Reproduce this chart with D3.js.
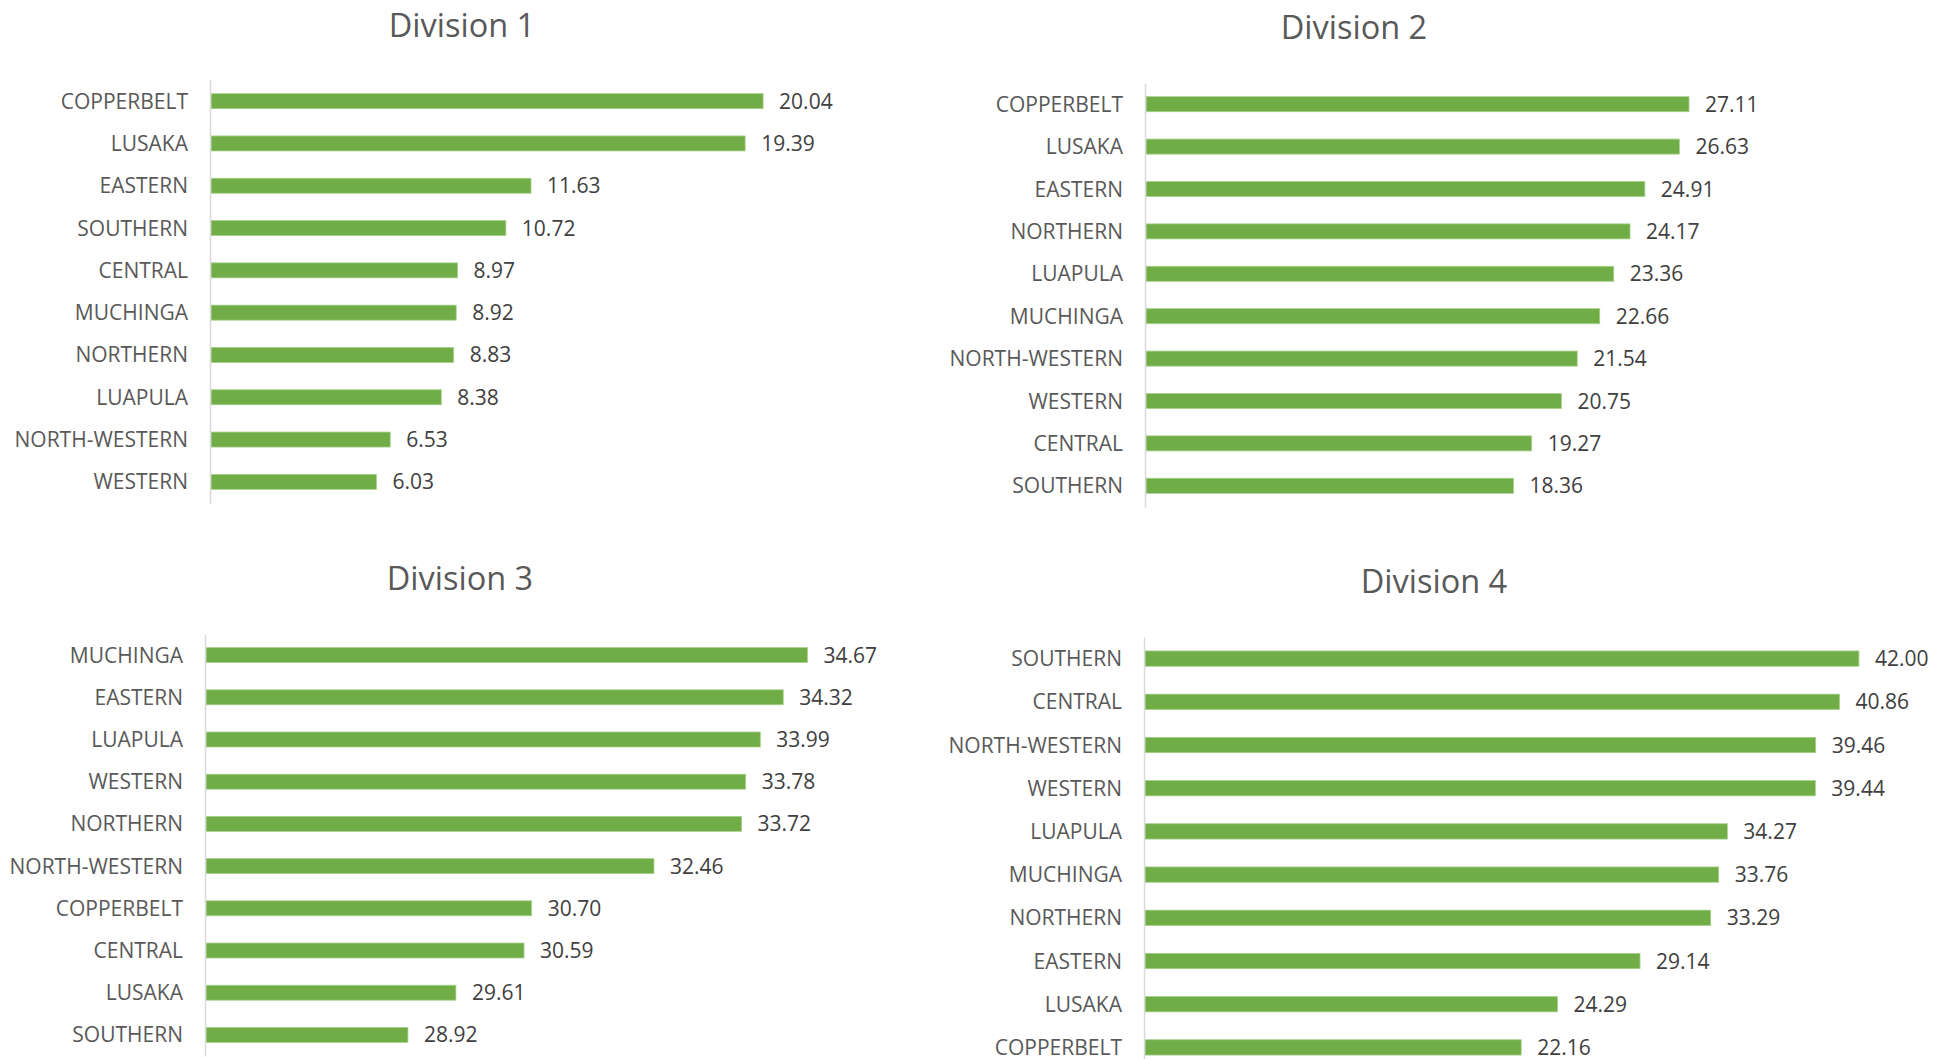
<!DOCTYPE html>
<html>
<head>
<meta charset="utf-8">
<script src="https://cdn.jsdelivr.net/npm/d3@7"></script>
<style>
  html, body { margin: 0; padding: 0; background: #ffffff; }
  svg { display: block; }
  text { font-family: "Open Sans", "Liberation Sans", sans-serif; }
</style>
</head>
<body>
<svg id="chart" width="1933" height="1059"></svg>
<script>
// ---- Data ----
const div1Categories = ["COPPERBELT", "LUSAKA", "EASTERN", "SOUTHERN", "CENTRAL", "MUCHINGA", "NORTHERN", "LUAPULA", "NORTH-WESTERN", "WESTERN"];
const div1Values = [20.04, 19.39, 11.63, 10.72, 8.97, 8.92, 8.83, 8.38, 6.53, 6.03];

const div2Categories = ["COPPERBELT", "LUSAKA", "EASTERN", "NORTHERN", "LUAPULA", "MUCHINGA", "NORTH-WESTERN", "WESTERN", "CENTRAL", "SOUTHERN"];
const div2Values = [27.11, 26.63, 24.91, 24.17, 23.36, 22.66, 21.54, 20.75, 19.27, 18.36];

const div3Categories = ["MUCHINGA", "EASTERN", "LUAPULA", "WESTERN", "NORTHERN", "NORTH-WESTERN", "COPPERBELT", "CENTRAL", "LUSAKA", "SOUTHERN"];
const div3Values = [34.67, 34.32, 33.99, 33.78, 33.72, 32.46, 30.70, 30.59, 29.61, 28.92];

const div4Categories = ["SOUTHERN", "CENTRAL", "NORTH-WESTERN", "WESTERN", "LUAPULA", "MUCHINGA", "NORTHERN", "EASTERN", "LUSAKA", "COPPERBELT"];
const div4Values = [42.00, 40.86, 39.46, 39.44, 34.27, 33.76, 33.29, 29.14, 24.29, 22.16];

const titles = ["Division 1", "Division 2", "Division 3", "Division 4"];
const axisDomains = [[0, 25], [0, 30], [26, 36], [0, 45]];

// ---- Layout ----
const panels = [
  { cats: div1Categories, vals: div1Values, title: titles[0], domain: axisDomains[0],
    x0: 210, x1: 900, y0: 80, y1: 503, titleX: 462, titleY: 37 },
  { cats: div2Categories, vals: div2Values, title: titles[1], domain: axisDomains[1],
    x0: 1145, x1: 1747, y0: 83, y1: 507, titleX: 1354, titleY: 39 },
  { cats: div3Categories, vals: div3Values, title: titles[2], domain: axisDomains[2],
    x0: 205, x1: 900, y0: 634, y1: 1056, titleX: 460, titleY: 590 },
  { cats: div4Categories, vals: div4Values, title: titles[3], domain: axisDomains[3],
    x0: 1144, x1: 1910, y0: 637, y1: 1069, titleX: 1434, titleY: 593 }
];

const svg = d3.select("#chart");
const barColor = "#70AD47";

panels.forEach(p => {
  const g = svg.append("g");
  const data = p.cats.map((c, i) => ({ cat: c, val: p.vals[i] }));

  const x = d3.scaleLinear().domain(p.domain).range([p.x0, p.x1]);
  const y = d3.scaleBand().domain(p.cats).range([p.y0, p.y1])
    .paddingInner(0.645).paddingOuter(0.3225);

  // title
  g.append("text")
    .attr("x", p.titleX).attr("y", p.titleY)
    .attr("text-anchor", "middle")
    .attr("font-size", 32.5)
    .attr("fill", "#595959")
    .text(p.title);

  // bars
  g.selectAll("rect.bar").data(data).enter().append("rect")
    .attr("class", "bar")
    .attr("x", x(p.domain[0]) + 1)
    .attr("y", d => y(d.cat))
    .attr("width", d => x(d.val) - x(p.domain[0]) - 1)
    .attr("height", y.bandwidth())
    .attr("fill", barColor)
    .attr("stroke", "#a8d08d")
    .attr("stroke-width", 0.8);

  // category axis
  const yAxis = d3.axisLeft(y).tickSize(0).tickPadding(22);
  const ax = g.append("g")
    .attr("transform", `translate(${x(p.domain[0])},0)`)
    .call(yAxis);
  ax.select(".domain").attr("stroke", "#d9d9d9").attr("stroke-width", 1.5);
  ax.selectAll(".tick text")
    .attr("font-size", 21)
    .attr("font-family", "Open Sans, sans-serif")
    .attr("fill", "#595959")
    .attr("dy", null)
    .attr("y", 7.5);

  // value labels
  g.selectAll("text.val").data(data).enter().append("text")
    .attr("class", "val")
    .attr("x", d => x(d.val) + 16)
    .attr("y", d => y(d.cat) + y.bandwidth() / 2 + 7.5)
    .attr("font-size", 21)
    .attr("fill", "#404040")
    .text(d => d.val.toFixed(2));
});
</script>
</body>
</html>
